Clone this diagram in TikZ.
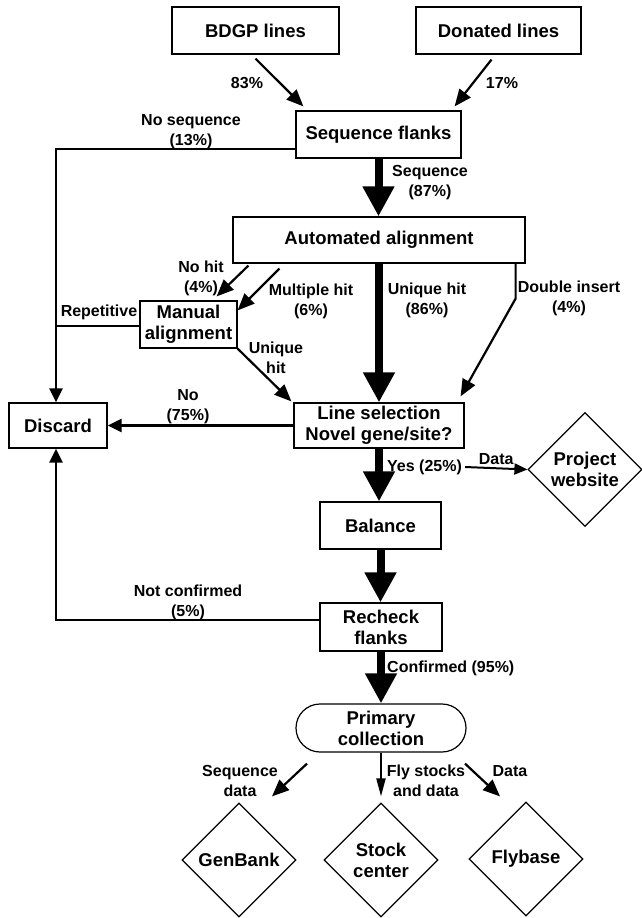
\documentclass[tikz,border=0pt]{standalone}
\usepackage{fontspec}
\setmainfont{Liberation Sans}
\usetikzlibrary{arrows.meta,shapes.geometric}

\newcommand\boxfont{\fontsize{18.5}{21}\selectfont\bfseries}
\newcommand\labfont{\fontsize{16}{20}\selectfont\bfseries}

\begin{document}
\begin{tikzpicture}[x=1pt,y=1pt,
  box/.style={draw,line width=1.2pt,minimum height=47pt,inner sep=2pt,align=center,font=\boxfont},
  gem/.style={draw,diamond,aspect=1,minimum size=114pt,inner sep=0pt,line width=1.2pt,align=center,font=\boxfont},
  lab/.style={inner sep=0pt,align=center,font=\labfont},
  flow/.style={line width=2.2pt,-{Triangle[length=17pt,width=14pt]}},
  fat/.style={line width=8pt,-{Triangle[length=30pt,width=30pt]}},
  bin/.style={line width=2.6pt,-{Triangle[length=14pt,width=13pt]}}]
\useasboundingbox (0,0) rectangle (641,-918);
% boxes
\node at(255.5,-30.5)[box,minimum width=167pt](bdgp){BDGP lines};
\node at(498.5,-30.5)[box,minimum width=165pt](donated){Donated lines};
\node at(378.5,-134.5)[box,minimum width=165pt](flanks){Sequence flanks};
\node at(379,-240)[box,minimum width=292pt,minimum height=46pt](auto){Automated alignment};
\node at(188.5,-324.5)[box,minimum width=97pt](manual){Manual\\alignment};
\node at(58,-425.5)[box,minimum width=98pt,minimum height=45pt](discard){Discard};
\node at(379,-425.5)[box,minimum width=170pt,minimum height=45pt](select){Line selection\\Novel gene/site?};
\node at(585,-469.5)[gem](web){Project\\website};
\node at(380.5,-525.5)[box,minimum width=121pt](balance){Balance};
\node at(381,-627)[box,minimum width=122pt,minimum height=48pt](recheck){Recheck\\flanks};
\node at(381,-728)[box,rounded corners=24pt,minimum width=170pt,minimum height=48pt](primary){Primary\\collection};
\node at(239,-860)[gem](genbank){GenBank};
\node at(381,-860)[gem](stock){Stock\\center};
\node at(526,-859)[gem](flybase){Flybase};
\coordinate (bend) at (56,-149);
% top
\draw[flow] ([yshift=-4pt]bdgp.south) -- ([shift={(8pt,4pt)}]flanks.north west);
\draw[flow] ([shift={(-7pt,-5pt)}]donated.south) -- ([shift={(-7pt,4pt)}]flanks.north east);
\node at(247,-83)[lab]{83\%};
\node at(502,-83)[lab]{17\%};
\draw[bin] ([yshift=-14.5pt]flanks.west) -- (bend) -- (bend |- discard.north);
\node at(191,-132)[lab]{No sequence\\(13\%)};
\draw[fat] (flanks.south) -- (flanks.south |- auto.north);
\node at(430,-183)[lab]{Sequence\\(87\%)};
% alignment
\draw[flow] ([shift={(16pt,-2pt)}]auto.south west) -- ([shift={(-21pt,4pt)}]manual.north east);
\node at(201,-278)[lab]{No hit\\(4\%)};
\draw[flow] ([shift={(47pt,-5pt)}]auto.south west) -- ([yshift=-10pt]manual.north east);
\node at(311,-301)[lab]{Multiple hit\\(6\%)};
\draw[line width=2pt] ([yshift=-1.5pt]manual.west) -- ([yshift=-1.5pt]manual.west -| bend);
\node at(99,-312)[lab]{Repetitive};
\draw[fat] (auto.south) -- (select.north);
\node at(427,-300)[lab]{Unique hit\\(86\%)};
\draw[flow] ([xshift=-10pt]auto.south east) -- ++(0,-35) -- ([shift={(-4pt,6pt)}]select.north east);
\node at(569,-298)[lab]{Double insert\\(4\%)};
\draw[flow] (manual.south east) -- ([shift={(-2pt,1pt)}]select.north west);
\node at(276,-358)[lab]{Unique\\hit};
% selection
\draw[bin] (select.west) -- (discard.east);
\node at(188,-407)[lab]{No\\(75\%)};
\draw[fat] (select.south) -- (select.south |- balance.north);
\node at(387,-467)[lab,anchor=west](yes){Yes (25\%)};
\draw[line width=2pt,-{Triangle[length=13pt,width=11pt]}] ([xshift=3pt]yes.east) -- (web.west)
    node[lab,midway,above=3pt]{Data};
\draw[fat] (balance.south) -- (balance.south |- recheck.north);
\draw[bin] ([yshift=7pt]recheck.west) -- ([yshift=7pt]recheck.west -| bend) -- (bend |- discard.south);
\node at(188,-602)[lab]{Not confirmed\\(5\%)};
\draw[fat] (recheck.south) -- (primary.north);
\node at(387,-668)[lab,anchor=west]{Confirmed (95\%)};
% outputs
\draw[flow] ([shift={(-74pt,-11pt)}]primary.south) -- ([shift={(33pt,6pt)}]genbank.north);
\node at(240,-781)[lab]{Sequence\\data};
\draw[line width=2pt,-{Triangle[length=18pt,width=9pt]}] (primary.south) -- ([yshift=6pt]stock.north);
\node at(426,-781)[lab]{Fly stocks\\and data};
\draw[flow] ([shift={(84pt,-11pt)}]primary.south) -- ([shift={(-26pt,5pt)}]flybase.north);
\node at(510,-771)[lab]{Data};
\end{tikzpicture}
\end{document}
